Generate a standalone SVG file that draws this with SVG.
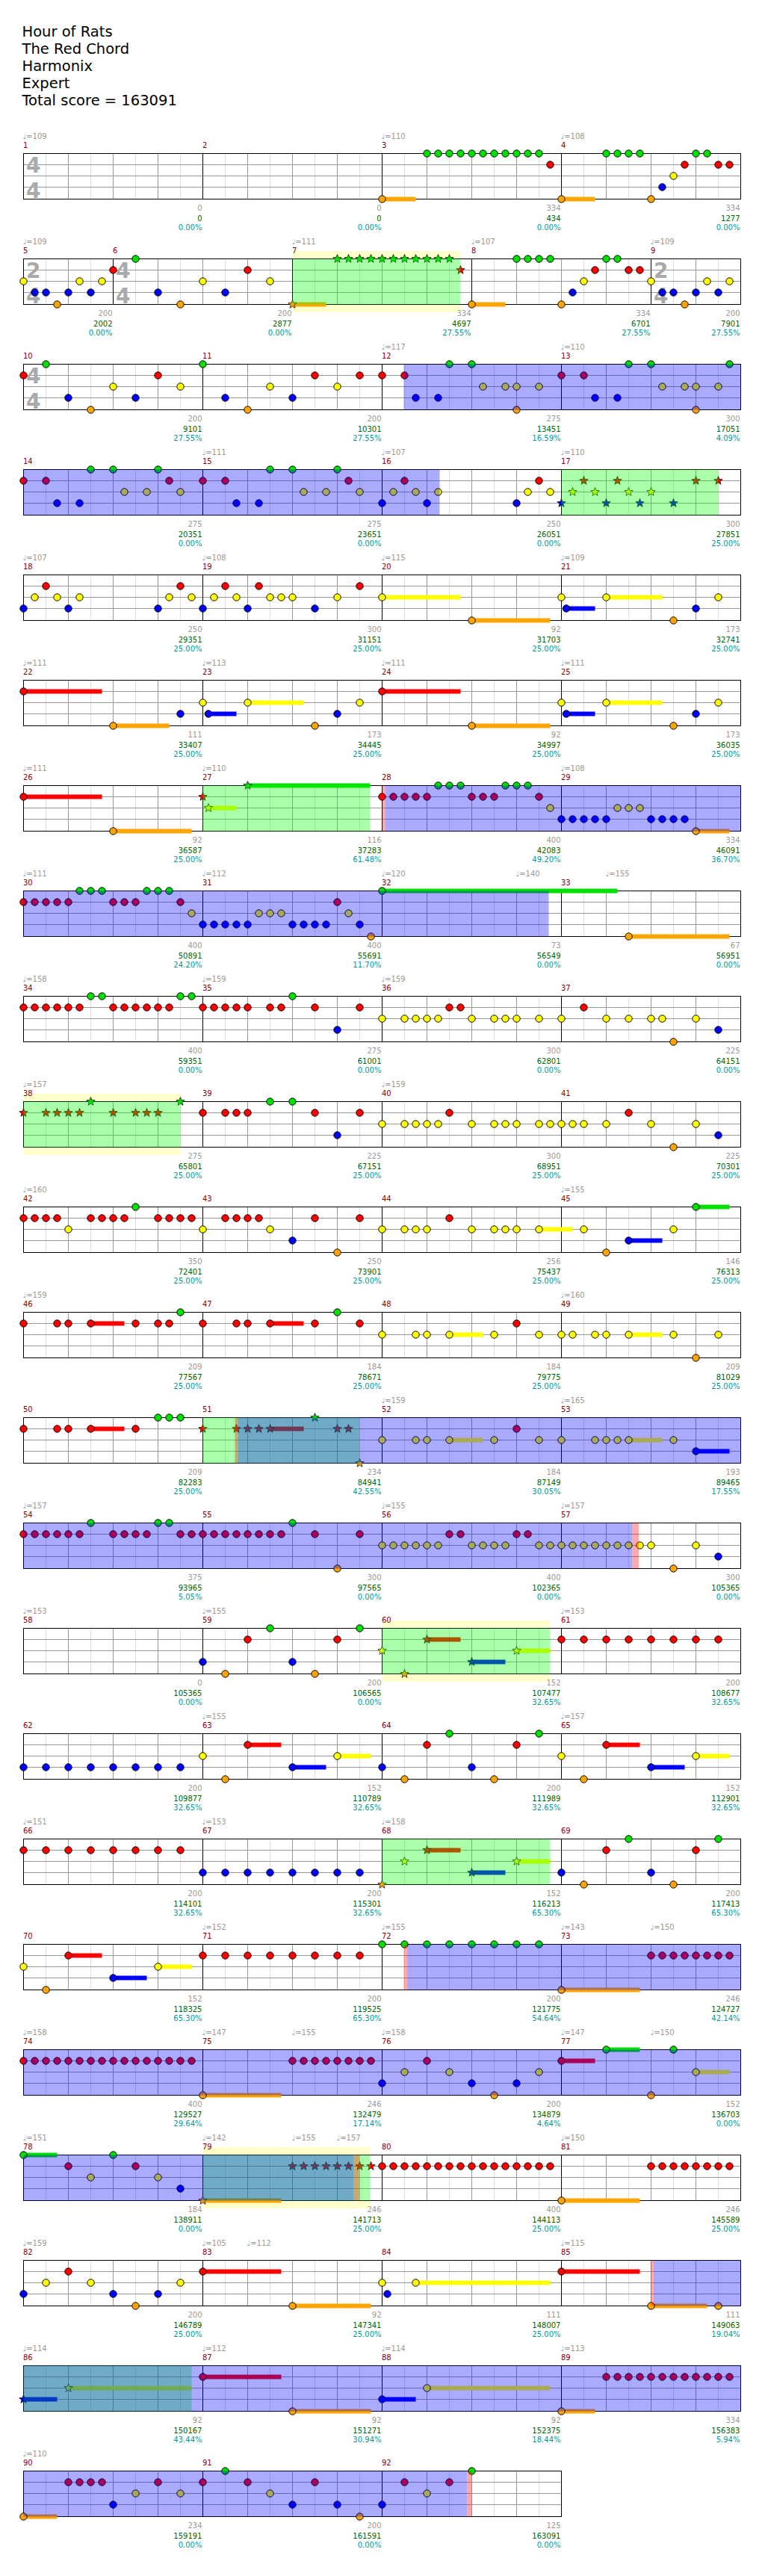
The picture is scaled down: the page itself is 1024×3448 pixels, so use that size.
<svg xmlns="http://www.w3.org/2000/svg" width="1024" height="3448" viewBox="0 0 1024 3448">
<style>
text{font-family:"DejaVu Sans","Liberation Sans",sans-serif;font-size:10px}
.ti{font-size:19.5px;fill:#000}
.mn{fill:#8b0000}
.tp{fill:#999}
.sc{text-anchor:end}
.s1{fill:#999}.s2{fill:#006400}.s3{fill:#009999}
.ts{font-size:28px;font-weight:bold;fill:#aaa}
.gl{stroke:#ddd;fill:none}.gg{stroke:#999;fill:none}
.ml{stroke:#000;fill:none}.bd{stroke:#000;fill:none}
.nt{stroke:#000;stroke-width:1}.st{stroke:#000;stroke-width:.7}
.g{fill:#00e000}.r{fill:#f00}.y{fill:#ff0}.b{fill:#00f}.o{fill:#ffa500}
.bo{fill:#00f;fill-opacity:.333}.go{fill:#0f0;fill-opacity:.333}.po{fill:#f00;fill-opacity:.333}
.yb{fill:#ffffcc}.wb{fill:#fff}
</style>
<defs>
<circle id="c" r="4.7"/>
<path id="s" d="M0-6L1.53-2.1L5.71-1.85L2.47 0.8L3.53 4.85L0 2.6L-3.53 4.85L-2.47 0.8L-5.71-1.85L-1.53-2.1Z"/>
<g id="grid">
<path class="gl" d="M30 0V61M90 0V61M150 0V61M210 0V61M270 0V61M330 0V61M390 0V61M450 0V61M510 0V61M570 0V61M630 0V61M690 0V61M750 0V61M810 0V61M870 0V61M930 0V61"/>
<path class="gg" d="M60 0V61M120 0V61M180 0V61M240 0V61M300 0V61M360 0V61M420 0V61M480 0V61M540 0V61M600 0V61M660 0V61M720 0V61M780 0V61M840 0V61M900 0V61M0 15H960M0 30H960M0 45H960"/>
</g>
<g id="grid3">
<path class="gl" d="M30 0V61M90 0V61M150 0V61M210 0V61M270 0V61M330 0V61M390 0V61M450 0V61M510 0V61M570 0V61M630 0V61M690 0V61"/>
<path class="gg" d="M60 0V61M120 0V61M180 0V61M240 0V61M300 0V61M360 0V61M420 0V61M480 0V61M540 0V61M600 0V61M660 0V61M0 15H720M0 30H720M0 45H720"/>
</g>
</defs>
<rect width="1024" height="3448" fill="#fff"/>
<g id="title">
<text class="ti" x="29.5" y="49">Hour of Rats</text>
<text class="ti" x="29.5" y="72">The Red Chord</text>
<text class="ti" x="29.5" y="95">Harmonix</text>
<text class="ti" x="29.5" y="118">Expert</text>
<text class="ti" x="29.5" y="141">Total score = 163091</text>
</g>

<g id="row1" transform="translate(31.5,205.5)">
<use href="#grid"/><path class="ml" d="M240 0V61M480 0V61M720 0V61"/><rect class="bd" width="960" height="61"/>
<text class="ts" x="3.5" y="25.5">4</text><text class="ts" x="3.5" y="59">4</text>
<g class="o"><rect x="480" y="58" width="45" height="6"/><rect x="720" y="58" width="45" height="6"/></g>
<g class="nt">
<g class="g"><use href="#c" x="540"/><use href="#c" x="555"/><use href="#c" x="570"/><use href="#c" x="585"/><use href="#c" x="600"/><use href="#c" x="615"/><use href="#c" x="630"/><use href="#c" x="645"/><use href="#c" x="660"/><use href="#c" x="675"/><use href="#c" x="690"/><use href="#c" x="780"/><use href="#c" x="795"/><use href="#c" x="810"/><use href="#c" x="825"/><use href="#c" x="900"/><use href="#c" x="915"/></g>
<g class="r" transform="translate(0,15)"><use href="#c" x="705"/><use href="#c" x="885"/><use href="#c" x="930"/><use href="#c" x="945"/></g>
<g class="y" transform="translate(0,30)"><use href="#c" x="870"/></g>
<g class="b" transform="translate(0,45)"><use href="#c" x="855"/></g>
<g class="o" transform="translate(0,61)"><use href="#c" x="480"/><use href="#c" x="720"/><use href="#c" x="840"/></g>
</g>
<text class="mn" x="-0.5" y="-7.5">1</text><text class="mn" x="239.5" y="-7.5">2</text><text class="mn" x="479.5" y="-7.5">3</text><text class="mn" x="719.5" y="-7.5">4</text>
<text class="tp" x="-1" y="-20">♩=109</text><text class="tp" x="479" y="-20">♩=110</text><text class="tp" x="719" y="-20">♩=108</text>
<g class="sc" transform="translate(239,0)"><text class="s1" y="76.5">0</text><text class="s2" y="90">0</text><text class="s3" y="102.5">0.00%</text></g>
<g class="sc" transform="translate(479,0)"><text class="s1" y="76.5">0</text><text class="s2" y="90">0</text><text class="s3" y="102.5">0.00%</text></g>
<g class="sc" transform="translate(719,0)"><text class="s1" y="76.5">334</text><text class="s2" y="90">434</text><text class="s3" y="102.5">0.00%</text></g>
<g class="sc" transform="translate(959,0)"><text class="s1" y="76.5">334</text><text class="s2" y="90">1277</text><text class="s3" y="102.5">0.00%</text></g>
</g>

<g id="row2" transform="translate(31.5,346.5)">
<rect class="yb" x="360" y="-10.5" width="225" height="82"/><rect class="wb" width="960" height="61"/>
<use href="#grid"/><path class="ml" d="M120 0V61M360 0V61M600 0V61M840 0V61"/><rect class="bd" width="960" height="61"/>
<text class="ts" x="3.5" y="25.5">2</text><text class="ts" x="3.5" y="59">4</text>
<text class="ts" x="123.5" y="25.5">4</text><text class="ts" x="123.5" y="59">4</text>
<text class="ts" x="843.5" y="25.5">2</text><text class="ts" x="843.5" y="59">4</text>
<g class="o"><rect x="360" y="58" width="45" height="6"/><rect x="600" y="58" width="45" height="6"/></g>
<g class="nt">
<g class="g"><use href="#c" x="150"/><use href="#c" x="660"/><use href="#c" x="675"/><use href="#c" x="690"/><use href="#c" x="705"/><use href="#c" x="780"/><use href="#c" x="795"/></g>
<g class="r" transform="translate(0,15)"><use href="#c" x="120"/><use href="#c" x="300"/><use href="#c" x="765"/><use href="#c" x="810"/><use href="#c" x="825"/></g>
<g class="y" transform="translate(0,30)"><use href="#c" x="0"/><use href="#c" x="75"/><use href="#c" x="105"/><use href="#c" x="240"/><use href="#c" x="330"/><use href="#c" x="750"/><use href="#c" x="840"/><use href="#c" x="915"/><use href="#c" x="945"/></g>
<g class="b" transform="translate(0,45)"><use href="#c" x="15"/><use href="#c" x="30"/><use href="#c" x="60"/><use href="#c" x="90"/><use href="#c" x="180"/><use href="#c" x="270"/><use href="#c" x="735"/><use href="#c" x="855"/><use href="#c" x="870"/><use href="#c" x="900"/><use href="#c" x="930"/></g>
<g class="o" transform="translate(0,61)"><use href="#c" x="45"/><use href="#c" x="210"/><use href="#c" x="600"/><use href="#c" x="720"/><use href="#c" x="885"/></g>
</g>
<g class="st">
<use href="#s" class="o" x="360" y="61"/>
<g class="g"><use href="#s" x="420"/><use href="#s" x="435"/><use href="#s" x="450"/><use href="#s" x="465"/><use href="#s" x="480"/><use href="#s" x="495"/><use href="#s" x="510"/><use href="#s" x="525"/><use href="#s" x="540"/><use href="#s" x="555"/><use href="#s" x="570"/></g>
<use href="#s" class="r" x="585" y="15"/>
</g>
<rect class="go" x="360" width="225" height="61"/>
<text class="mn" x="-0.5" y="-7.5">5</text><text class="mn" x="119.5" y="-7.5">6</text><text class="mn" x="359.5" y="-7.5">7</text><text class="mn" x="599.5" y="-7.5">8</text><text class="mn" x="839.5" y="-7.5">9</text>
<text class="tp" x="-1" y="-20">♩=109</text><text class="tp" x="359" y="-20">♩=111</text><text class="tp" x="599" y="-20">♩=107</text><text class="tp" x="839" y="-20">♩=109</text>
<g class="sc" transform="translate(119,0)"><text class="s1" y="76.5">200</text><text class="s2" y="90">2002</text><text class="s3" y="102.5">0.00%</text></g>
<g class="sc" transform="translate(359,0)"><text class="s1" y="76.5">200</text><text class="s2" y="90">2877</text><text class="s3" y="102.5">0.00%</text></g>
<g class="sc" transform="translate(599,0)"><text class="s1" y="76.5">334</text><text class="s2" y="90">4697</text><text class="s3" y="102.5">27.55%</text></g>
<g class="sc" transform="translate(839,0)"><text class="s1" y="76.5">334</text><text class="s2" y="90">6701</text><text class="s3" y="102.5">27.55%</text></g>
<g class="sc" transform="translate(959,0)"><text class="s1" y="76.5">200</text><text class="s2" y="90">7901</text><text class="s3" y="102.5">27.55%</text></g>
</g>

<g id="row3" transform="translate(31.5,487.5)">
<use href="#grid"/><path class="ml" d="M240 0V61M480 0V61M720 0V61"/><rect class="bd" width="960" height="61"/>
<text class="ts" x="3.5" y="25.5">4</text><text class="ts" x="3.5" y="59">4</text>
<g class="nt">
<g class="g"><use href="#c" x="30"/><use href="#c" x="240"/><use href="#c" x="570"/><use href="#c" x="600"/><use href="#c" x="810"/><use href="#c" x="840"/><use href="#c" x="945"/></g>
<g class="r" transform="translate(0,15)"><use href="#c" x="0"/><use href="#c" x="180"/><use href="#c" x="390"/><use href="#c" x="450"/><use href="#c" x="480"/><use href="#c" x="510"/><use href="#c" x="720"/><use href="#c" x="750"/></g>
<g class="y" transform="translate(0,30)"><use href="#c" x="120"/><use href="#c" x="210"/><use href="#c" x="330"/><use href="#c" x="420"/><use href="#c" x="615"/><use href="#c" x="645"/><use href="#c" x="660"/><use href="#c" x="690"/><use href="#c" x="855"/><use href="#c" x="885"/><use href="#c" x="900"/><use href="#c" x="930"/></g>
<g class="b" transform="translate(0,45)"><use href="#c" x="60"/><use href="#c" x="150"/><use href="#c" x="270"/><use href="#c" x="360"/><use href="#c" x="525"/><use href="#c" x="555"/><use href="#c" x="765"/><use href="#c" x="795"/></g>
<g class="o" transform="translate(0,61)"><use href="#c" x="90"/><use href="#c" x="300"/><use href="#c" x="660"/><use href="#c" x="900"/></g>
</g>
<rect class="bo" x="509" width="451" height="61"/>
<text class="mn" x="-0.5" y="-7.5">10</text><text class="mn" x="239.5" y="-7.5">11</text><text class="mn" x="479.5" y="-7.5">12</text><text class="mn" x="719.5" y="-7.5">13</text>
<text class="tp" x="479" y="-20">♩=117</text><text class="tp" x="719" y="-20">♩=110</text>
<g class="sc" transform="translate(239,0)"><text class="s1" y="76.5">200</text><text class="s2" y="90">9101</text><text class="s3" y="102.5">27.55%</text></g>
<g class="sc" transform="translate(479,0)"><text class="s1" y="76.5">200</text><text class="s2" y="90">10301</text><text class="s3" y="102.5">27.55%</text></g>
<g class="sc" transform="translate(719,0)"><text class="s1" y="76.5">275</text><text class="s2" y="90">13451</text><text class="s3" y="102.5">16.59%</text></g>
<g class="sc" transform="translate(959,0)"><text class="s1" y="76.5">300</text><text class="s2" y="90">17051</text><text class="s3" y="102.5">4.09%</text></g>
</g>

<g id="row4" transform="translate(31.5,628.5)">
<use href="#grid"/><path class="ml" d="M240 0V61M480 0V61M720 0V61"/><rect class="bd" width="960" height="61"/>
<g class="nt">
<g class="g"><use href="#c" x="90"/><use href="#c" x="120"/><use href="#c" x="180"/><use href="#c" x="330"/><use href="#c" x="360"/><use href="#c" x="420"/></g>
<g class="r" transform="translate(0,15)"><use href="#c" x="0"/><use href="#c" x="30"/><use href="#c" x="195"/><use href="#c" x="240"/><use href="#c" x="270"/><use href="#c" x="435"/><use href="#c" x="510"/><use href="#c" x="690"/></g>
<g class="y" transform="translate(0,30)"><use href="#c" x="135"/><use href="#c" x="165"/><use href="#c" x="210"/><use href="#c" x="375"/><use href="#c" x="405"/><use href="#c" x="450"/><use href="#c" x="495"/><use href="#c" x="525"/><use href="#c" x="555"/><use href="#c" x="675"/><use href="#c" x="705"/></g>
<g class="b" transform="translate(0,45)"><use href="#c" x="45"/><use href="#c" x="75"/><use href="#c" x="285"/><use href="#c" x="315"/><use href="#c" x="480"/><use href="#c" x="540"/><use href="#c" x="660"/></g>
</g>
<g class="st">
<g class="r" transform="translate(0,15)"><use href="#s" x="750"/><use href="#s" x="795"/><use href="#s" x="900"/><use href="#s" x="930"/></g>
<g class="y" transform="translate(0,30)"><use href="#s" x="735"/><use href="#s" x="765"/><use href="#s" x="810"/><use href="#s" x="840"/></g>
<g class="b" transform="translate(0,45)"><use href="#s" x="720"/><use href="#s" x="780"/><use href="#s" x="825"/><use href="#s" x="870"/></g>
</g>
<rect class="bo" x="0" width="557" height="61"/><rect class="go" x="720" width="210" height="61"/>
<text class="mn" x="-0.5" y="-7.5">14</text><text class="mn" x="239.5" y="-7.5">15</text><text class="mn" x="479.5" y="-7.5">16</text><text class="mn" x="719.5" y="-7.5">17</text>
<text class="tp" x="239" y="-20">♩=111</text><text class="tp" x="479" y="-20">♩=107</text><text class="tp" x="719" y="-20">♩=110</text>
<g class="sc" transform="translate(239,0)"><text class="s1" y="76.5">275</text><text class="s2" y="90">20351</text><text class="s3" y="102.5">0.00%</text></g>
<g class="sc" transform="translate(479,0)"><text class="s1" y="76.5">275</text><text class="s2" y="90">23651</text><text class="s3" y="102.5">0.00%</text></g>
<g class="sc" transform="translate(719,0)"><text class="s1" y="76.5">250</text><text class="s2" y="90">26051</text><text class="s3" y="102.5">0.00%</text></g>
<g class="sc" transform="translate(959,0)"><text class="s1" y="76.5">300</text><text class="s2" y="90">27851</text><text class="s3" y="102.5">25.00%</text></g>
</g>

<g id="row5" transform="translate(31.5,769.5)">
<use href="#grid"/><path class="ml" d="M240 0V61M480 0V61M720 0V61"/><rect class="bd" width="960" height="61"/>
<rect class="y" x="480" y="27" width="105" height="6"/><rect class="o" x="600" y="58" width="105" height="6"/><rect class="b" x="726.5" y="42" width="38.5" height="6"/><rect class="y" x="780" y="27" width="75" height="6"/>
<g class="nt">
<g class="r" transform="translate(0,15)"><use href="#c" x="30"/><use href="#c" x="210"/><use href="#c" x="270"/><use href="#c" x="315"/><use href="#c" x="450"/></g>
<g class="y" transform="translate(0,30)"><use href="#c" x="15"/><use href="#c" x="45"/><use href="#c" x="75"/><use href="#c" x="195"/><use href="#c" x="225"/><use href="#c" x="255"/><use href="#c" x="285"/><use href="#c" x="330"/><use href="#c" x="345"/><use href="#c" x="360"/><use href="#c" x="420"/><use href="#c" x="480"/><use href="#c" x="720"/><use href="#c" x="780"/><use href="#c" x="930"/></g>
<g class="b" transform="translate(0,45)"><use href="#c" x="0"/><use href="#c" x="60"/><use href="#c" x="180"/><use href="#c" x="240"/><use href="#c" x="300"/><use href="#c" x="390"/><use href="#c" x="726.5"/><use href="#c" x="900"/></g>
<g class="o" transform="translate(0,61)"><use href="#c" x="600"/><use href="#c" x="870"/></g>
</g>
<text class="mn" x="-0.5" y="-7.5">18</text><text class="mn" x="239.5" y="-7.5">19</text><text class="mn" x="479.5" y="-7.5">20</text><text class="mn" x="719.5" y="-7.5">21</text>
<text class="tp" x="-1" y="-20">♩=107</text><text class="tp" x="239" y="-20">♩=108</text><text class="tp" x="479" y="-20">♩=115</text><text class="tp" x="719" y="-20">♩=109</text>
<g class="sc" transform="translate(239,0)"><text class="s1" y="76.5">250</text><text class="s2" y="90">29351</text><text class="s3" y="102.5">25.00%</text></g>
<g class="sc" transform="translate(479,0)"><text class="s1" y="76.5">300</text><text class="s2" y="90">31151</text><text class="s3" y="102.5">25.00%</text></g>
<g class="sc" transform="translate(719,0)"><text class="s1" y="76.5">92</text><text class="s2" y="90">31703</text><text class="s3" y="102.5">25.00%</text></g>
<g class="sc" transform="translate(959,0)"><text class="s1" y="76.5">173</text><text class="s2" y="90">32741</text><text class="s3" y="102.5">25.00%</text></g>
</g>

<g id="row6" transform="translate(31.5,910.5)">
<use href="#grid"/><path class="ml" d="M240 0V61M480 0V61M720 0V61"/><rect class="bd" width="960" height="61"/>
<rect class="r" x="0" y="12" width="105" height="6"/><rect class="o" x="120" y="58" width="75" height="6"/><rect class="b" x="247.5" y="42" width="37.5" height="6"/><rect class="y" x="300" y="27" width="75" height="6"/><rect class="r" x="480" y="12" width="105" height="6"/><rect class="o" x="600" y="58" width="105" height="6"/><rect class="b" x="726.5" y="42" width="38.5" height="6"/><rect class="y" x="780" y="27" width="75" height="6"/>
<g class="nt">
<g class="r" transform="translate(0,15)"><use href="#c" x="0"/><use href="#c" x="480"/></g>
<g class="y" transform="translate(0,30)"><use href="#c" x="240"/><use href="#c" x="300"/><use href="#c" x="450"/><use href="#c" x="720"/><use href="#c" x="780"/><use href="#c" x="930"/></g>
<g class="b" transform="translate(0,45)"><use href="#c" x="210"/><use href="#c" x="247.5"/><use href="#c" x="420"/><use href="#c" x="726.5"/><use href="#c" x="900"/></g>
<g class="o" transform="translate(0,61)"><use href="#c" x="120"/><use href="#c" x="390"/><use href="#c" x="600"/><use href="#c" x="870"/></g>
</g>
<text class="mn" x="-0.5" y="-7.5">22</text><text class="mn" x="239.5" y="-7.5">23</text><text class="mn" x="479.5" y="-7.5">24</text><text class="mn" x="719.5" y="-7.5">25</text>
<text class="tp" x="-1" y="-20">♩=111</text><text class="tp" x="239" y="-20">♩=113</text><text class="tp" x="479" y="-20">♩=111</text><text class="tp" x="719" y="-20">♩=111</text>
<g class="sc" transform="translate(239,0)"><text class="s1" y="76.5">111</text><text class="s2" y="90">33407</text><text class="s3" y="102.5">25.00%</text></g>
<g class="sc" transform="translate(479,0)"><text class="s1" y="76.5">173</text><text class="s2" y="90">34445</text><text class="s3" y="102.5">25.00%</text></g>
<g class="sc" transform="translate(719,0)"><text class="s1" y="76.5">92</text><text class="s2" y="90">34997</text><text class="s3" y="102.5">25.00%</text></g>
<g class="sc" transform="translate(959,0)"><text class="s1" y="76.5">173</text><text class="s2" y="90">36035</text><text class="s3" y="102.5">25.00%</text></g>
</g>

<g id="row7" transform="translate(31.5,1051.5)">
<use href="#grid"/><path class="ml" d="M240 0V61M480 0V61M720 0V61"/><rect class="bd" width="960" height="61"/>
<rect class="r" x="0" y="12" width="105" height="6"/><rect class="o" x="120" y="58" width="105" height="6"/><rect class="y" x="247.5" y="27" width="37.5" height="6"/><rect class="g" x="300" y="-3" width="164" height="6"/><rect class="o" x="900" y="58" width="45" height="6"/>
<g class="nt">
<g class="g"><use href="#c" x="555"/><use href="#c" x="570"/><use href="#c" x="585"/><use href="#c" x="645"/><use href="#c" x="660"/><use href="#c" x="675"/></g>
<g class="r" transform="translate(0,15)"><use href="#c" x="0"/><use href="#c" x="480"/><use href="#c" x="495"/><use href="#c" x="510"/><use href="#c" x="525"/><use href="#c" x="540"/><use href="#c" x="600"/><use href="#c" x="615"/><use href="#c" x="630"/><use href="#c" x="690"/></g>
<g class="y" transform="translate(0,30)"><use href="#c" x="705"/><use href="#c" x="795"/><use href="#c" x="810"/><use href="#c" x="825"/></g>
<g class="b" transform="translate(0,45)"><use href="#c" x="720"/><use href="#c" x="735"/><use href="#c" x="750"/><use href="#c" x="765"/><use href="#c" x="780"/><use href="#c" x="840"/><use href="#c" x="855"/><use href="#c" x="870"/><use href="#c" x="885"/></g>
<g class="o" transform="translate(0,61)"><use href="#c" x="120"/><use href="#c" x="900"/></g>
</g>
<g class="st"><use href="#s" class="r" x="240" y="15"/><use href="#s" class="y" x="247.5" y="30"/><use href="#s" class="g" x="300" y="0"/></g>
<rect class="go" x="240" width="224" height="61"/><rect class="po" x="480" width="4.5" height="61"/><rect class="bo" x="484.5" width="475.5" height="61"/>
<text class="mn" x="-0.5" y="-7.5">26</text><text class="mn" x="239.5" y="-7.5">27</text><text class="mn" x="479.5" y="-7.5">28</text><text class="mn" x="719.5" y="-7.5">29</text>
<text class="tp" x="-1" y="-20">♩=111</text><text class="tp" x="239" y="-20">♩=110</text><text class="tp" x="719" y="-20">♩=108</text>
<g class="sc" transform="translate(239,0)"><text class="s1" y="76.5">92</text><text class="s2" y="90">36587</text><text class="s3" y="102.5">25.00%</text></g>
<g class="sc" transform="translate(479,0)"><text class="s1" y="76.5">116</text><text class="s2" y="90">37283</text><text class="s3" y="102.5">61.48%</text></g>
<g class="sc" transform="translate(719,0)"><text class="s1" y="76.5">400</text><text class="s2" y="90">42083</text><text class="s3" y="102.5">49.20%</text></g>
<g class="sc" transform="translate(959,0)"><text class="s1" y="76.5">334</text><text class="s2" y="90">46091</text><text class="s3" y="102.5">36.70%</text></g>
</g>

<g id="row8" transform="translate(31.5,1192.5)">
<use href="#grid"/><path class="ml" d="M240 0V61M480 0V61M720 0V61"/><rect class="bd" width="960" height="61"/>
<rect class="g" x="480" y="-3" width="315" height="6"/><rect class="o" x="810" y="58" width="135" height="6"/>
<g class="nt">
<g class="g"><use href="#c" x="75"/><use href="#c" x="90"/><use href="#c" x="105"/><use href="#c" x="165"/><use href="#c" x="180"/><use href="#c" x="195"/><use href="#c" x="480"/></g>
<g class="r" transform="translate(0,15)"><use href="#c" x="0"/><use href="#c" x="15"/><use href="#c" x="30"/><use href="#c" x="45"/><use href="#c" x="60"/><use href="#c" x="120"/><use href="#c" x="135"/><use href="#c" x="150"/><use href="#c" x="210"/><use href="#c" x="420"/></g>
<g class="y" transform="translate(0,30)"><use href="#c" x="225"/><use href="#c" x="315"/><use href="#c" x="330"/><use href="#c" x="345"/><use href="#c" x="435"/></g>
<g class="b" transform="translate(0,45)"><use href="#c" x="240"/><use href="#c" x="255"/><use href="#c" x="270"/><use href="#c" x="285"/><use href="#c" x="300"/><use href="#c" x="360"/><use href="#c" x="375"/><use href="#c" x="390"/><use href="#c" x="405"/><use href="#c" x="450"/></g>
<g class="o" transform="translate(0,61)"><use href="#c" x="465"/><use href="#c" x="810"/></g>
</g>
<rect class="bo" x="0" width="703" height="61"/>
<text class="mn" x="-0.5" y="-7.5">30</text><text class="mn" x="239.5" y="-7.5">31</text><text class="mn" x="479.5" y="-7.5">32</text><text class="mn" x="719.5" y="-7.5">33</text>
<text class="tp" x="-1" y="-20">♩=111</text><text class="tp" x="239" y="-20">♩=112</text><text class="tp" x="479" y="-20">♩=120</text><text class="tp" x="659" y="-20">♩=140</text><text class="tp" x="779" y="-20">♩=155</text>
<g class="sc" transform="translate(239,0)"><text class="s1" y="76.5">400</text><text class="s2" y="90">50891</text><text class="s3" y="102.5">24.20%</text></g>
<g class="sc" transform="translate(479,0)"><text class="s1" y="76.5">400</text><text class="s2" y="90">55691</text><text class="s3" y="102.5">11.70%</text></g>
<g class="sc" transform="translate(719,0)"><text class="s1" y="76.5">73</text><text class="s2" y="90">56549</text><text class="s3" y="102.5">0.00%</text></g>
<g class="sc" transform="translate(959,0)"><text class="s1" y="76.5">67</text><text class="s2" y="90">56951</text><text class="s3" y="102.5">0.00%</text></g>
</g>

<g id="row9" transform="translate(31.5,1333.5)">
<use href="#grid"/><path class="ml" d="M240 0V61M480 0V61M720 0V61"/><rect class="bd" width="960" height="61"/>
<g class="nt">
<g class="g"><use href="#c" x="90"/><use href="#c" x="105"/><use href="#c" x="210"/><use href="#c" x="225"/><use href="#c" x="360"/></g>
<g class="r" transform="translate(0,15)"><use href="#c" x="0"/><use href="#c" x="15"/><use href="#c" x="30"/><use href="#c" x="45"/><use href="#c" x="60"/><use href="#c" x="75"/><use href="#c" x="120"/><use href="#c" x="135"/><use href="#c" x="150"/><use href="#c" x="165"/><use href="#c" x="180"/><use href="#c" x="195"/><use href="#c" x="240"/><use href="#c" x="255"/><use href="#c" x="270"/><use href="#c" x="285"/><use href="#c" x="300"/><use href="#c" x="330"/><use href="#c" x="345"/><use href="#c" x="390"/><use href="#c" x="450"/><use href="#c" x="570"/><use href="#c" x="585"/><use href="#c" x="750"/></g>
<g class="y" transform="translate(0,30)"><use href="#c" x="480"/><use href="#c" x="510"/><use href="#c" x="525"/><use href="#c" x="540"/><use href="#c" x="555"/><use href="#c" x="600"/><use href="#c" x="630"/><use href="#c" x="645"/><use href="#c" x="660"/><use href="#c" x="690"/><use href="#c" x="720"/><use href="#c" x="780"/><use href="#c" x="810"/><use href="#c" x="840"/><use href="#c" x="855"/><use href="#c" x="900"/></g>
<g class="b" transform="translate(0,45)"><use href="#c" x="420"/><use href="#c" x="930"/></g>
<g class="o" transform="translate(0,61)"><use href="#c" x="870"/></g>
</g>
<text class="mn" x="-0.5" y="-7.5">34</text><text class="mn" x="239.5" y="-7.5">35</text><text class="mn" x="479.5" y="-7.5">36</text><text class="mn" x="719.5" y="-7.5">37</text>
<text class="tp" x="-1" y="-20">♩=158</text><text class="tp" x="239" y="-20">♩=159</text><text class="tp" x="479" y="-20">♩=159</text>
<g class="sc" transform="translate(239,0)"><text class="s1" y="76.5">400</text><text class="s2" y="90">59351</text><text class="s3" y="102.5">0.00%</text></g>
<g class="sc" transform="translate(479,0)"><text class="s1" y="76.5">275</text><text class="s2" y="90">61001</text><text class="s3" y="102.5">0.00%</text></g>
<g class="sc" transform="translate(719,0)"><text class="s1" y="76.5">300</text><text class="s2" y="90">62801</text><text class="s3" y="102.5">0.00%</text></g>
<g class="sc" transform="translate(959,0)"><text class="s1" y="76.5">225</text><text class="s2" y="90">64151</text><text class="s3" y="102.5">0.00%</text></g>
</g>

<g id="row10" transform="translate(31.5,1474.5)">
<rect class="yb" x="0" y="-10.5" width="210" height="82"/><rect class="wb" width="960" height="61"/>
<use href="#grid"/><path class="ml" d="M240 0V61M480 0V61M720 0V61"/><rect class="bd" width="960" height="61"/>
<g class="nt">
<g class="g"><use href="#c" x="330"/><use href="#c" x="360"/></g>
<g class="r" transform="translate(0,15)"><use href="#c" x="240"/><use href="#c" x="270"/><use href="#c" x="285"/><use href="#c" x="300"/><use href="#c" x="390"/><use href="#c" x="450"/><use href="#c" x="570"/><use href="#c" x="810"/></g>
<g class="y" transform="translate(0,30)"><use href="#c" x="480"/><use href="#c" x="510"/><use href="#c" x="525"/><use href="#c" x="540"/><use href="#c" x="555"/><use href="#c" x="600"/><use href="#c" x="630"/><use href="#c" x="645"/><use href="#c" x="660"/><use href="#c" x="690"/><use href="#c" x="705"/><use href="#c" x="720"/><use href="#c" x="735"/><use href="#c" x="750"/><use href="#c" x="780"/><use href="#c" x="840"/><use href="#c" x="900"/></g>
<g class="b" transform="translate(0,45)"><use href="#c" x="420"/><use href="#c" x="930"/></g>
<g class="o" transform="translate(0,61)"><use href="#c" x="870"/></g>
</g>
<g class="st">
<g class="r" transform="translate(0,15)"><use href="#s" x="0"/><use href="#s" x="30"/><use href="#s" x="45"/><use href="#s" x="60"/><use href="#s" x="75"/><use href="#s" x="120"/><use href="#s" x="150"/><use href="#s" x="165"/><use href="#s" x="180"/></g>
<g class="g"><use href="#s" x="90"/><use href="#s" x="210"/></g>
</g>
<rect class="go" x="0" width="210" height="61"/>
<text class="mn" x="-0.5" y="-7.5">38</text><text class="mn" x="239.5" y="-7.5">39</text><text class="mn" x="479.5" y="-7.5">40</text><text class="mn" x="719.5" y="-7.5">41</text>
<text class="tp" x="-1" y="-20">♩=157</text><text class="tp" x="479" y="-20">♩=159</text>
<g class="sc" transform="translate(239,0)"><text class="s1" y="76.5">275</text><text class="s2" y="90">65801</text><text class="s3" y="102.5">25.00%</text></g>
<g class="sc" transform="translate(479,0)"><text class="s1" y="76.5">225</text><text class="s2" y="90">67151</text><text class="s3" y="102.5">25.00%</text></g>
<g class="sc" transform="translate(719,0)"><text class="s1" y="76.5">300</text><text class="s2" y="90">68951</text><text class="s3" y="102.5">25.00%</text></g>
<g class="sc" transform="translate(959,0)"><text class="s1" y="76.5">225</text><text class="s2" y="90">70301</text><text class="s3" y="102.5">25.00%</text></g>
</g>

<g id="row11" transform="translate(31.5,1615.5)">
<use href="#grid"/><path class="ml" d="M240 0V61M480 0V61M720 0V61"/><rect class="bd" width="960" height="61"/>
<rect class="y" x="690" y="27" width="45" height="6"/><rect class="b" x="810" y="42" width="45" height="6"/><rect class="g" x="900" y="-3" width="45" height="6"/>
<g class="nt">
<g class="g"><use href="#c" x="150"/><use href="#c" x="900"/></g>
<g class="r" transform="translate(0,15)"><use href="#c" x="0"/><use href="#c" x="15"/><use href="#c" x="30"/><use href="#c" x="45"/><use href="#c" x="90"/><use href="#c" x="105"/><use href="#c" x="120"/><use href="#c" x="135"/><use href="#c" x="180"/><use href="#c" x="195"/><use href="#c" x="210"/><use href="#c" x="225"/><use href="#c" x="270"/><use href="#c" x="285"/><use href="#c" x="300"/><use href="#c" x="315"/><use href="#c" x="390"/><use href="#c" x="450"/><use href="#c" x="570"/></g>
<g class="y" transform="translate(0,30)"><use href="#c" x="60"/><use href="#c" x="240"/><use href="#c" x="330"/><use href="#c" x="480"/><use href="#c" x="510"/><use href="#c" x="525"/><use href="#c" x="540"/><use href="#c" x="600"/><use href="#c" x="630"/><use href="#c" x="645"/><use href="#c" x="660"/><use href="#c" x="690"/><use href="#c" x="750"/><use href="#c" x="870"/></g>
<g class="b" transform="translate(0,45)"><use href="#c" x="360"/><use href="#c" x="810"/></g>
<g class="o" transform="translate(0,61)"><use href="#c" x="420"/><use href="#c" x="780"/></g>
</g>
<text class="mn" x="-0.5" y="-7.5">42</text><text class="mn" x="239.5" y="-7.5">43</text><text class="mn" x="479.5" y="-7.5">44</text><text class="mn" x="719.5" y="-7.5">45</text>
<text class="tp" x="-1" y="-20">♩=160</text><text class="tp" x="719" y="-20">♩=155</text>
<g class="sc" transform="translate(239,0)"><text class="s1" y="76.5">350</text><text class="s2" y="90">72401</text><text class="s3" y="102.5">25.00%</text></g>
<g class="sc" transform="translate(479,0)"><text class="s1" y="76.5">250</text><text class="s2" y="90">73901</text><text class="s3" y="102.5">25.00%</text></g>
<g class="sc" transform="translate(719,0)"><text class="s1" y="76.5">256</text><text class="s2" y="90">75437</text><text class="s3" y="102.5">25.00%</text></g>
<g class="sc" transform="translate(959,0)"><text class="s1" y="76.5">146</text><text class="s2" y="90">76313</text><text class="s3" y="102.5">25.00%</text></g>
</g>

<g id="row12" transform="translate(31.5,1756.5)">
<use href="#grid"/><path class="ml" d="M240 0V61M480 0V61M720 0V61"/><rect class="bd" width="960" height="61"/>
<rect class="r" x="90" y="12" width="45" height="6"/><rect class="r" x="330" y="12" width="45" height="6"/><rect class="y" x="570" y="27" width="45" height="6"/><rect class="y" x="810" y="27" width="45" height="6"/>
<g class="nt">
<g class="g"><use href="#c" x="210"/><use href="#c" x="420"/></g>
<g class="r" transform="translate(0,15)"><use href="#c" x="0"/><use href="#c" x="45"/><use href="#c" x="60"/><use href="#c" x="90"/><use href="#c" x="150"/><use href="#c" x="180"/><use href="#c" x="195"/><use href="#c" x="240"/><use href="#c" x="285"/><use href="#c" x="300"/><use href="#c" x="330"/><use href="#c" x="390"/><use href="#c" x="450"/><use href="#c" x="660"/></g>
<g class="y" transform="translate(0,30)"><use href="#c" x="480"/><use href="#c" x="525"/><use href="#c" x="540"/><use href="#c" x="570"/><use href="#c" x="630"/><use href="#c" x="690"/><use href="#c" x="720"/><use href="#c" x="735"/><use href="#c" x="765"/><use href="#c" x="780"/><use href="#c" x="810"/><use href="#c" x="870"/><use href="#c" x="930"/></g>
<g class="o" transform="translate(0,61)"><use href="#c" x="900"/></g>
</g>
<text class="mn" x="-0.5" y="-7.5">46</text><text class="mn" x="239.5" y="-7.5">47</text><text class="mn" x="479.5" y="-7.5">48</text><text class="mn" x="719.5" y="-7.5">49</text>
<text class="tp" x="-1" y="-20">♩=159</text><text class="tp" x="719" y="-20">♩=160</text>
<g class="sc" transform="translate(239,0)"><text class="s1" y="76.5">209</text><text class="s2" y="90">77567</text><text class="s3" y="102.5">25.00%</text></g>
<g class="sc" transform="translate(479,0)"><text class="s1" y="76.5">184</text><text class="s2" y="90">78671</text><text class="s3" y="102.5">25.00%</text></g>
<g class="sc" transform="translate(719,0)"><text class="s1" y="76.5">184</text><text class="s2" y="90">79775</text><text class="s3" y="102.5">25.00%</text></g>
<g class="sc" transform="translate(959,0)"><text class="s1" y="76.5">209</text><text class="s2" y="90">81029</text><text class="s3" y="102.5">25.00%</text></g>
</g>

<g id="row13" transform="translate(31.5,1897.5)">
<use href="#grid"/><path class="ml" d="M240 0V61M480 0V61M720 0V61"/><rect class="bd" width="960" height="61"/>
<rect class="r" x="90" y="12" width="45" height="6"/><rect class="r" x="330" y="12" width="45" height="6"/><rect class="y" x="570" y="27" width="45" height="6"/><rect class="y" x="810" y="27" width="45" height="6"/><rect class="b" x="900" y="42" width="45" height="6"/>
<g class="nt">
<g class="g"><use href="#c" x="180"/><use href="#c" x="195"/><use href="#c" x="210"/></g>
<g class="r" transform="translate(0,15)"><use href="#c" x="0"/><use href="#c" x="45"/><use href="#c" x="60"/><use href="#c" x="90"/><use href="#c" x="150"/><use href="#c" x="660"/></g>
<g class="y" transform="translate(0,30)"><use href="#c" x="480"/><use href="#c" x="525"/><use href="#c" x="540"/><use href="#c" x="570"/><use href="#c" x="630"/><use href="#c" x="690"/><use href="#c" x="720"/><use href="#c" x="765"/><use href="#c" x="780"/><use href="#c" x="795"/><use href="#c" x="810"/><use href="#c" x="870"/></g>
<g class="b" transform="translate(0,45)"><use href="#c" x="900"/></g>
</g>
<g class="st">
<g class="r" transform="translate(0,15)"><use href="#s" x="240"/><use href="#s" x="285"/><use href="#s" x="300"/><use href="#s" x="315"/><use href="#s" x="330"/><use href="#s" x="420"/><use href="#s" x="435"/></g>
<use href="#s" class="g" x="390" y="0"/><use href="#s" class="o" x="450" y="61"/>
</g>
<rect class="go" x="240" width="210" height="61"/><rect class="po" x="283" width="4" height="61"/><rect class="bo" x="287" width="673" height="61"/>
<text class="mn" x="-0.5" y="-7.5">50</text><text class="mn" x="239.5" y="-7.5">51</text><text class="mn" x="479.5" y="-7.5">52</text><text class="mn" x="719.5" y="-7.5">53</text>
<text class="tp" x="479" y="-20">♩=159</text><text class="tp" x="719" y="-20">♩=165</text>
<g class="sc" transform="translate(239,0)"><text class="s1" y="76.5">209</text><text class="s2" y="90">82283</text><text class="s3" y="102.5">25.00%</text></g>
<g class="sc" transform="translate(479,0)"><text class="s1" y="76.5">234</text><text class="s2" y="90">84941</text><text class="s3" y="102.5">42.55%</text></g>
<g class="sc" transform="translate(719,0)"><text class="s1" y="76.5">184</text><text class="s2" y="90">87149</text><text class="s3" y="102.5">30.05%</text></g>
<g class="sc" transform="translate(959,0)"><text class="s1" y="76.5">193</text><text class="s2" y="90">89465</text><text class="s3" y="102.5">17.55%</text></g>
</g>

<g id="row14" transform="translate(31.5,2038.5)">
<use href="#grid"/><path class="ml" d="M240 0V61M480 0V61M720 0V61"/><rect class="bd" width="960" height="61"/>
<g class="nt">
<g class="g"><use href="#c" x="90"/><use href="#c" x="180"/><use href="#c" x="195"/><use href="#c" x="360"/></g>
<g class="r" transform="translate(0,15)"><use href="#c" x="0"/><use href="#c" x="15"/><use href="#c" x="30"/><use href="#c" x="45"/><use href="#c" x="60"/><use href="#c" x="75"/><use href="#c" x="120"/><use href="#c" x="135"/><use href="#c" x="150"/><use href="#c" x="165"/><use href="#c" x="210"/><use href="#c" x="225"/><use href="#c" x="240"/><use href="#c" x="255"/><use href="#c" x="270"/><use href="#c" x="285"/><use href="#c" x="300"/><use href="#c" x="315"/><use href="#c" x="330"/><use href="#c" x="345"/><use href="#c" x="390"/><use href="#c" x="450"/><use href="#c" x="570"/><use href="#c" x="585"/><use href="#c" x="660"/><use href="#c" x="675"/></g>
<g class="y" transform="translate(0,30)"><use href="#c" x="480"/><use href="#c" x="495"/><use href="#c" x="510"/><use href="#c" x="525"/><use href="#c" x="540"/><use href="#c" x="555"/><use href="#c" x="600"/><use href="#c" x="615"/><use href="#c" x="630"/><use href="#c" x="645"/><use href="#c" x="690"/><use href="#c" x="705"/><use href="#c" x="720"/><use href="#c" x="735"/><use href="#c" x="750"/><use href="#c" x="765"/><use href="#c" x="780"/><use href="#c" x="795"/><use href="#c" x="810"/><use href="#c" x="825"/><use href="#c" x="840"/><use href="#c" x="900"/></g>
<g class="b" transform="translate(0,45)"><use href="#c" x="930"/></g>
<g class="o" transform="translate(0,61)"><use href="#c" x="420"/><use href="#c" x="870"/></g>
</g>
<rect class="bo" x="0" width="815" height="61"/><rect class="po" x="815" width="8.5" height="61"/>
<text class="mn" x="-0.5" y="-7.5">54</text><text class="mn" x="239.5" y="-7.5">55</text><text class="mn" x="479.5" y="-7.5">56</text><text class="mn" x="719.5" y="-7.5">57</text>
<text class="tp" x="-1" y="-20">♩=157</text><text class="tp" x="479" y="-20">♩=155</text><text class="tp" x="719" y="-20">♩=157</text>
<g class="sc" transform="translate(239,0)"><text class="s1" y="76.5">375</text><text class="s2" y="90">93965</text><text class="s3" y="102.5">5.05%</text></g>
<g class="sc" transform="translate(479,0)"><text class="s1" y="76.5">300</text><text class="s2" y="90">97565</text><text class="s3" y="102.5">0.00%</text></g>
<g class="sc" transform="translate(719,0)"><text class="s1" y="76.5">400</text><text class="s2" y="90">102365</text><text class="s3" y="102.5">0.00%</text></g>
<g class="sc" transform="translate(959,0)"><text class="s1" y="76.5">300</text><text class="s2" y="90">105365</text><text class="s3" y="102.5">0.00%</text></g>
</g>

<g id="row15" transform="translate(31.5,2179.5)">
<rect class="yb" x="480" y="-10.5" width="225" height="82"/><rect class="wb" width="960" height="61"/>
<use href="#grid"/><path class="ml" d="M240 0V61M480 0V61M720 0V61"/><rect class="bd" width="960" height="61"/>
<rect class="r" x="540" y="12" width="45" height="6"/><rect class="b" x="600" y="42" width="45" height="6"/><rect class="y" x="660" y="27" width="45" height="6"/>
<g class="nt">
<g class="g"><use href="#c" x="330"/><use href="#c" x="450"/></g>
<g class="r" transform="translate(0,15)"><use href="#c" x="300"/><use href="#c" x="420"/><use href="#c" x="720"/><use href="#c" x="750"/><use href="#c" x="780"/><use href="#c" x="810"/><use href="#c" x="840"/><use href="#c" x="870"/><use href="#c" x="900"/><use href="#c" x="930"/></g>
<g class="b" transform="translate(0,45)"><use href="#c" x="240"/><use href="#c" x="360"/></g>
<g class="o" transform="translate(0,61)"><use href="#c" x="270"/><use href="#c" x="390"/></g>
</g>
<g class="st"><use href="#s" class="y" x="480" y="30"/><use href="#s" class="o" x="510" y="61"/><use href="#s" class="r" x="540" y="15"/><use href="#s" class="b" x="600" y="45"/><use href="#s" class="y" x="660" y="30"/></g>
<rect class="go" x="480" width="225" height="61"/>
<text class="mn" x="-0.5" y="-7.5">58</text><text class="mn" x="239.5" y="-7.5">59</text><text class="mn" x="479.5" y="-7.5">60</text><text class="mn" x="719.5" y="-7.5">61</text>
<text class="tp" x="-1" y="-20">♩=153</text><text class="tp" x="239" y="-20">♩=155</text><text class="tp" x="719" y="-20">♩=153</text>
<g class="sc" transform="translate(239,0)"><text class="s1" y="76.5">0</text><text class="s2" y="90">105365</text><text class="s3" y="102.5">0.00%</text></g>
<g class="sc" transform="translate(479,0)"><text class="s1" y="76.5">200</text><text class="s2" y="90">106565</text><text class="s3" y="102.5">0.00%</text></g>
<g class="sc" transform="translate(719,0)"><text class="s1" y="76.5">152</text><text class="s2" y="90">107477</text><text class="s3" y="102.5">32.65%</text></g>
<g class="sc" transform="translate(959,0)"><text class="s1" y="76.5">200</text><text class="s2" y="90">108677</text><text class="s3" y="102.5">32.65%</text></g>
</g>

<g id="row16" transform="translate(31.5,2320.5)">
<use href="#grid"/><path class="ml" d="M240 0V61M480 0V61M720 0V61"/><rect class="bd" width="960" height="61"/>
<rect class="r" x="300" y="12" width="45" height="6"/><rect class="b" x="360" y="42" width="45" height="6"/><rect class="y" x="420" y="27" width="45" height="6"/><rect class="r" x="780" y="12" width="45" height="6"/><rect class="b" x="840" y="42" width="45" height="6"/><rect class="y" x="900" y="27" width="45" height="6"/>
<g class="nt">
<g class="g"><use href="#c" x="570"/><use href="#c" x="690"/></g>
<g class="r" transform="translate(0,15)"><use href="#c" x="300"/><use href="#c" x="540"/><use href="#c" x="660"/><use href="#c" x="780"/></g>
<g class="y" transform="translate(0,30)"><use href="#c" x="240"/><use href="#c" x="420"/><use href="#c" x="720"/><use href="#c" x="900"/></g>
<g class="b" transform="translate(0,45)"><use href="#c" x="0"/><use href="#c" x="30"/><use href="#c" x="60"/><use href="#c" x="90"/><use href="#c" x="120"/><use href="#c" x="150"/><use href="#c" x="180"/><use href="#c" x="210"/><use href="#c" x="360"/><use href="#c" x="480"/><use href="#c" x="600"/><use href="#c" x="840"/></g>
<g class="o" transform="translate(0,61)"><use href="#c" x="270"/><use href="#c" x="510"/><use href="#c" x="630"/><use href="#c" x="750"/></g>
</g>
<text class="mn" x="-0.5" y="-7.5">62</text><text class="mn" x="239.5" y="-7.5">63</text><text class="mn" x="479.5" y="-7.5">64</text><text class="mn" x="719.5" y="-7.5">65</text>
<text class="tp" x="239" y="-20">♩=155</text><text class="tp" x="719" y="-20">♩=157</text>
<g class="sc" transform="translate(239,0)"><text class="s1" y="76.5">200</text><text class="s2" y="90">109877</text><text class="s3" y="102.5">32.65%</text></g>
<g class="sc" transform="translate(479,0)"><text class="s1" y="76.5">152</text><text class="s2" y="90">110789</text><text class="s3" y="102.5">32.65%</text></g>
<g class="sc" transform="translate(719,0)"><text class="s1" y="76.5">200</text><text class="s2" y="90">111989</text><text class="s3" y="102.5">32.65%</text></g>
<g class="sc" transform="translate(959,0)"><text class="s1" y="76.5">152</text><text class="s2" y="90">112901</text><text class="s3" y="102.5">32.65%</text></g>
</g>

<g id="row17" transform="translate(31.5,2461.5)">
<use href="#grid"/><path class="ml" d="M240 0V61M480 0V61M720 0V61"/><rect class="bd" width="960" height="61"/>
<rect class="r" x="540" y="12" width="45" height="6"/><rect class="b" x="600" y="42" width="45" height="6"/><rect class="y" x="660" y="27" width="45" height="6"/>
<g class="nt">
<g class="g"><use href="#c" x="810"/><use href="#c" x="930"/></g>
<g class="r" transform="translate(0,15)"><use href="#c" x="0"/><use href="#c" x="30"/><use href="#c" x="60"/><use href="#c" x="90"/><use href="#c" x="120"/><use href="#c" x="150"/><use href="#c" x="180"/><use href="#c" x="210"/><use href="#c" x="780"/><use href="#c" x="900"/></g>
<g class="b" transform="translate(0,45)"><use href="#c" x="240"/><use href="#c" x="270"/><use href="#c" x="300"/><use href="#c" x="330"/><use href="#c" x="360"/><use href="#c" x="390"/><use href="#c" x="420"/><use href="#c" x="450"/><use href="#c" x="720"/><use href="#c" x="840"/></g>
<g class="o" transform="translate(0,61)"><use href="#c" x="750"/><use href="#c" x="870"/></g>
</g>
<g class="st"><use href="#s" class="o" x="480" y="61"/><use href="#s" class="y" x="510" y="30"/><use href="#s" class="r" x="540" y="15"/><use href="#s" class="b" x="600" y="45"/><use href="#s" class="y" x="660" y="30"/></g>
<rect class="go" x="480" width="225" height="61"/>
<text class="mn" x="-0.5" y="-7.5">66</text><text class="mn" x="239.5" y="-7.5">67</text><text class="mn" x="479.5" y="-7.5">68</text><text class="mn" x="719.5" y="-7.5">69</text>
<text class="tp" x="-1" y="-20">♩=151</text><text class="tp" x="239" y="-20">♩=153</text><text class="tp" x="479" y="-20">♩=158</text>
<g class="sc" transform="translate(239,0)"><text class="s1" y="76.5">200</text><text class="s2" y="90">114101</text><text class="s3" y="102.5">32.65%</text></g>
<g class="sc" transform="translate(479,0)"><text class="s1" y="76.5">200</text><text class="s2" y="90">115301</text><text class="s3" y="102.5">32.65%</text></g>
<g class="sc" transform="translate(719,0)"><text class="s1" y="76.5">152</text><text class="s2" y="90">116213</text><text class="s3" y="102.5">65.30%</text></g>
<g class="sc" transform="translate(959,0)"><text class="s1" y="76.5">200</text><text class="s2" y="90">117413</text><text class="s3" y="102.5">65.30%</text></g>
</g>

<g id="row18" transform="translate(31.5,2602.5)">
<use href="#grid"/><path class="ml" d="M240 0V61M480 0V61M720 0V61"/><rect class="bd" width="960" height="61"/>
<rect class="r" x="60" y="12" width="45" height="6"/><rect class="b" x="120" y="42" width="45" height="6"/><rect class="y" x="180" y="27" width="45" height="6"/><rect class="o" x="720" y="58" width="105" height="6"/>
<g class="nt">
<g class="g"><use href="#c" x="480"/><use href="#c" x="510"/><use href="#c" x="540"/><use href="#c" x="570"/><use href="#c" x="600"/><use href="#c" x="630"/><use href="#c" x="660"/><use href="#c" x="690"/></g>
<g class="r" transform="translate(0,15)"><use href="#c" x="60"/><use href="#c" x="240"/><use href="#c" x="270"/><use href="#c" x="300"/><use href="#c" x="330"/><use href="#c" x="360"/><use href="#c" x="390"/><use href="#c" x="420"/><use href="#c" x="450"/><use href="#c" x="840"/><use href="#c" x="855"/><use href="#c" x="870"/><use href="#c" x="885"/><use href="#c" x="900"/><use href="#c" x="915"/><use href="#c" x="930"/><use href="#c" x="945"/></g>
<g class="y" transform="translate(0,30)"><use href="#c" x="0"/><use href="#c" x="180"/></g>
<g class="b" transform="translate(0,45)"><use href="#c" x="120"/></g>
<g class="o" transform="translate(0,61)"><use href="#c" x="30"/><use href="#c" x="720"/></g>
</g>
<rect class="po" x="509" width="4.6" height="61"/><rect class="bo" x="513.6" width="446.4" height="61"/>
<text class="mn" x="-0.5" y="-7.5">70</text><text class="mn" x="239.5" y="-7.5">71</text><text class="mn" x="479.5" y="-7.5">72</text><text class="mn" x="719.5" y="-7.5">73</text>
<text class="tp" x="239" y="-20">♩=152</text><text class="tp" x="479" y="-20">♩=155</text><text class="tp" x="719" y="-20">♩=143</text><text class="tp" x="839" y="-20">♩=150</text>
<g class="sc" transform="translate(239,0)"><text class="s1" y="76.5">152</text><text class="s2" y="90">118325</text><text class="s3" y="102.5">65.30%</text></g>
<g class="sc" transform="translate(479,0)"><text class="s1" y="76.5">200</text><text class="s2" y="90">119525</text><text class="s3" y="102.5">65.30%</text></g>
<g class="sc" transform="translate(719,0)"><text class="s1" y="76.5">200</text><text class="s2" y="90">121775</text><text class="s3" y="102.5">54.64%</text></g>
<g class="sc" transform="translate(959,0)"><text class="s1" y="76.5">246</text><text class="s2" y="90">124727</text><text class="s3" y="102.5">42.14%</text></g>
</g>

<g id="row19" transform="translate(31.5,2743.5)">
<use href="#grid"/><path class="ml" d="M240 0V61M480 0V61M720 0V61"/><rect class="bd" width="960" height="61"/>
<rect class="o" x="240" y="58" width="105" height="6"/><rect class="r" x="720" y="12" width="45" height="6"/><rect class="g" x="780" y="-3" width="45" height="6"/><rect class="y" x="900" y="27" width="45" height="6"/>
<g class="nt">
<g class="g"><use href="#c" x="780"/><use href="#c" x="870"/></g>
<g class="r" transform="translate(0,15)"><use href="#c" x="0"/><use href="#c" x="15"/><use href="#c" x="30"/><use href="#c" x="45"/><use href="#c" x="60"/><use href="#c" x="75"/><use href="#c" x="90"/><use href="#c" x="105"/><use href="#c" x="120"/><use href="#c" x="135"/><use href="#c" x="150"/><use href="#c" x="165"/><use href="#c" x="180"/><use href="#c" x="195"/><use href="#c" x="210"/><use href="#c" x="225"/><use href="#c" x="360"/><use href="#c" x="375"/><use href="#c" x="390"/><use href="#c" x="405"/><use href="#c" x="420"/><use href="#c" x="435"/><use href="#c" x="450"/><use href="#c" x="465"/><use href="#c" x="540"/><use href="#c" x="720"/></g>
<g class="y" transform="translate(0,30)"><use href="#c" x="510"/><use href="#c" x="570"/><use href="#c" x="690"/><use href="#c" x="900"/></g>
<g class="b" transform="translate(0,45)"><use href="#c" x="480"/><use href="#c" x="600"/><use href="#c" x="660"/></g>
<g class="o" transform="translate(0,61)"><use href="#c" x="240"/><use href="#c" x="630"/><use href="#c" x="840"/></g>
</g>
<rect class="bo" x="0" width="960" height="61"/>
<text class="mn" x="-0.5" y="-7.5">74</text><text class="mn" x="239.5" y="-7.5">75</text><text class="mn" x="479.5" y="-7.5">76</text><text class="mn" x="719.5" y="-7.5">77</text>
<text class="tp" x="-1" y="-20">♩=158</text><text class="tp" x="239" y="-20">♩=147</text><text class="tp" x="359" y="-20">♩=155</text><text class="tp" x="479" y="-20">♩=158</text><text class="tp" x="719" y="-20">♩=147</text><text class="tp" x="839" y="-20">♩=150</text>
<g class="sc" transform="translate(239,0)"><text class="s1" y="76.5">400</text><text class="s2" y="90">129527</text><text class="s3" y="102.5">29.64%</text></g>
<g class="sc" transform="translate(479,0)"><text class="s1" y="76.5">246</text><text class="s2" y="90">132479</text><text class="s3" y="102.5">17.14%</text></g>
<g class="sc" transform="translate(719,0)"><text class="s1" y="76.5">200</text><text class="s2" y="90">134879</text><text class="s3" y="102.5">4.64%</text></g>
<g class="sc" transform="translate(959,0)"><text class="s1" y="76.5">152</text><text class="s2" y="90">136703</text><text class="s3" y="102.5">0.00%</text></g>
</g>

<g id="row20" transform="translate(31.5,2884.5)">
<rect class="yb" x="240" y="-10.5" width="224" height="82"/><rect class="wb" width="960" height="61"/>
<use href="#grid"/><path class="ml" d="M240 0V61M480 0V61M720 0V61"/><rect class="bd" width="960" height="61"/>
<rect class="g" x="0" y="-3" width="45" height="6"/><rect class="o" x="240" y="58" width="105" height="6"/><rect class="o" x="720" y="58" width="105" height="6"/>
<g class="nt">
<g class="g"><use href="#c" x="0"/><use href="#c" x="120"/></g>
<g class="r" transform="translate(0,15)"><use href="#c" x="60"/><use href="#c" x="150"/><use href="#c" x="480"/><use href="#c" x="495"/><use href="#c" x="510"/><use href="#c" x="525"/><use href="#c" x="540"/><use href="#c" x="555"/><use href="#c" x="570"/><use href="#c" x="585"/><use href="#c" x="600"/><use href="#c" x="615"/><use href="#c" x="630"/><use href="#c" x="645"/><use href="#c" x="660"/><use href="#c" x="675"/><use href="#c" x="690"/><use href="#c" x="705"/><use href="#c" x="840"/><use href="#c" x="855"/><use href="#c" x="870"/><use href="#c" x="885"/><use href="#c" x="900"/><use href="#c" x="915"/><use href="#c" x="930"/><use href="#c" x="945"/></g>
<g class="y" transform="translate(0,30)"><use href="#c" x="90"/><use href="#c" x="180"/></g>
<g class="b" transform="translate(0,45)"><use href="#c" x="210"/></g>
<g class="o" transform="translate(0,61)"><use href="#c" x="720"/></g>
</g>
<g class="st"><use href="#s" class="o" x="240" y="61"/>
<g class="r" transform="translate(0,15)"><use href="#s" x="360"/><use href="#s" x="375"/><use href="#s" x="390"/><use href="#s" x="405"/><use href="#s" x="420"/><use href="#s" x="435"/><use href="#s" x="450"/><use href="#s" x="465"/></g>
</g>
<rect class="go" x="240" width="224" height="61"/><rect class="bo" x="0" width="442" height="61"/><rect class="po" x="442" width="8" height="61"/>
<text class="mn" x="-0.5" y="-7.5">78</text><text class="mn" x="239.5" y="-7.5">79</text><text class="mn" x="479.5" y="-7.5">80</text><text class="mn" x="719.5" y="-7.5">81</text>
<text class="tp" x="-1" y="-20">♩=151</text><text class="tp" x="239" y="-20">♩=142</text><text class="tp" x="359" y="-20">♩=155</text><text class="tp" x="419" y="-20">♩=157</text><text class="tp" x="719" y="-20">♩=150</text>
<g class="sc" transform="translate(239,0)"><text class="s1" y="76.5">184</text><text class="s2" y="90">138911</text><text class="s3" y="102.5">0.00%</text></g>
<g class="sc" transform="translate(479,0)"><text class="s1" y="76.5">246</text><text class="s2" y="90">141713</text><text class="s3" y="102.5">25.00%</text></g>
<g class="sc" transform="translate(719,0)"><text class="s1" y="76.5">400</text><text class="s2" y="90">144113</text><text class="s3" y="102.5">25.00%</text></g>
<g class="sc" transform="translate(959,0)"><text class="s1" y="76.5">246</text><text class="s2" y="90">145589</text><text class="s3" y="102.5">25.00%</text></g>
</g>

<g id="row21" transform="translate(31.5,3025.5)">
<use href="#grid"/><path class="ml" d="M240 0V61M480 0V61M720 0V61"/><rect class="bd" width="960" height="61"/>
<rect class="r" x="240" y="12" width="105" height="6"/><rect class="o" x="360" y="58" width="105" height="6"/><rect class="y" x="525" y="27" width="180" height="6"/><rect class="r" x="720" y="12" width="105" height="6"/><rect class="o" x="840" y="58" width="75" height="6"/>
<g class="nt">
<g class="r" transform="translate(0,15)"><use href="#c" x="60"/><use href="#c" x="240"/><use href="#c" x="720"/></g>
<g class="y" transform="translate(0,30)"><use href="#c" x="30"/><use href="#c" x="90"/><use href="#c" x="210"/><use href="#c" x="480"/><use href="#c" x="525"/></g>
<g class="b" transform="translate(0,45)"><use href="#c" x="0"/><use href="#c" x="120"/><use href="#c" x="180"/><use href="#c" x="487"/></g>
<g class="o" transform="translate(0,61)"><use href="#c" x="150"/><use href="#c" x="360"/><use href="#c" x="840"/><use href="#c" x="930"/></g>
</g>
<rect class="po" x="839.4" width="4" height="61"/><rect class="bo" x="843.4" width="116.6" height="61"/>
<text class="mn" x="-0.5" y="-7.5">82</text><text class="mn" x="239.5" y="-7.5">83</text><text class="mn" x="479.5" y="-7.5">84</text><text class="mn" x="719.5" y="-7.5">85</text>
<text class="tp" x="-1" y="-20">♩=159</text><text class="tp" x="239" y="-20">♩=105</text><text class="tp" x="299" y="-20">♩=112</text><text class="tp" x="719" y="-20">♩=115</text>
<g class="sc" transform="translate(239,0)"><text class="s1" y="76.5">200</text><text class="s2" y="90">146789</text><text class="s3" y="102.5">25.00%</text></g>
<g class="sc" transform="translate(479,0)"><text class="s1" y="76.5">92</text><text class="s2" y="90">147341</text><text class="s3" y="102.5">25.00%</text></g>
<g class="sc" transform="translate(719,0)"><text class="s1" y="76.5">111</text><text class="s2" y="90">148007</text><text class="s3" y="102.5">25.00%</text></g>
<g class="sc" transform="translate(959,0)"><text class="s1" y="76.5">111</text><text class="s2" y="90">149063</text><text class="s3" y="102.5">19.04%</text></g>
</g>

<g id="row22" transform="translate(31.5,3166.5)">
<use href="#grid"/><path class="ml" d="M240 0V61M480 0V61M720 0V61"/><rect class="bd" width="960" height="61"/>
<rect class="b" x="0" y="42" width="45" height="6"/><rect class="y" x="60" y="27" width="165" height="6"/><rect class="r" x="240" y="12" width="105" height="6"/><rect class="o" x="360" y="58" width="105" height="6"/><rect class="b" x="480" y="42" width="45" height="6"/><rect class="y" x="540" y="27" width="165" height="6"/><rect class="o" x="720" y="58" width="45" height="6"/>
<g class="nt">
<g class="r" transform="translate(0,15)"><use href="#c" x="240"/><use href="#c" x="780"/><use href="#c" x="795"/><use href="#c" x="810"/><use href="#c" x="825"/><use href="#c" x="840"/><use href="#c" x="855"/><use href="#c" x="870"/><use href="#c" x="885"/><use href="#c" x="900"/><use href="#c" x="915"/><use href="#c" x="930"/><use href="#c" x="945"/></g>
<g class="y" transform="translate(0,30)"><use href="#c" x="540"/></g>
<g class="b" transform="translate(0,45)"><use href="#c" x="480"/></g>
<g class="o" transform="translate(0,61)"><use href="#c" x="360"/><use href="#c" x="720"/></g>
</g>
<g class="st"><use href="#s" class="b" x="0" y="45"/><use href="#s" class="y" x="60" y="30"/></g>
<rect class="go" x="0" width="225" height="61"/><rect class="bo" x="0" width="960" height="61"/>
<text class="mn" x="-0.5" y="-7.5">86</text><text class="mn" x="239.5" y="-7.5">87</text><text class="mn" x="479.5" y="-7.5">88</text><text class="mn" x="719.5" y="-7.5">89</text>
<text class="tp" x="-1" y="-20">♩=114</text><text class="tp" x="239" y="-20">♩=112</text><text class="tp" x="479" y="-20">♩=114</text><text class="tp" x="719" y="-20">♩=113</text>
<g class="sc" transform="translate(239,0)"><text class="s1" y="76.5">92</text><text class="s2" y="90">150167</text><text class="s3" y="102.5">43.44%</text></g>
<g class="sc" transform="translate(479,0)"><text class="s1" y="76.5">92</text><text class="s2" y="90">151271</text><text class="s3" y="102.5">30.94%</text></g>
<g class="sc" transform="translate(719,0)"><text class="s1" y="76.5">92</text><text class="s2" y="90">152375</text><text class="s3" y="102.5">18.44%</text></g>
<g class="sc" transform="translate(959,0)"><text class="s1" y="76.5">334</text><text class="s2" y="90">156383</text><text class="s3" y="102.5">5.94%</text></g>
</g>

<g id="row23" transform="translate(31.5,3307.5)">
<use href="#grid3"/><path class="ml" d="M240 0V61M480 0V61"/><rect class="bd" width="720" height="61"/>
<rect class="o" x="0" y="58" width="45" height="6"/>
<g class="nt">
<g class="g"><use href="#c" x="270"/><use href="#c" x="600"/></g>
<g class="r" transform="translate(0,15)"><use href="#c" x="60"/><use href="#c" x="75"/><use href="#c" x="90"/><use href="#c" x="105"/><use href="#c" x="180"/><use href="#c" x="240"/><use href="#c" x="300"/><use href="#c" x="390"/><use href="#c" x="510"/><use href="#c" x="570"/></g>
<g class="y" transform="translate(0,30)"><use href="#c" x="150"/><use href="#c" x="210"/><use href="#c" x="330"/><use href="#c" x="540"/></g>
<g class="b" transform="translate(0,45)"><use href="#c" x="120"/><use href="#c" x="360"/><use href="#c" x="420"/><use href="#c" x="480"/></g>
<g class="o" transform="translate(0,61)"><use href="#c" x="0"/><use href="#c" x="450"/></g>
</g>
<rect class="bo" x="0" width="593.4" height="61"/><rect class="po" x="593.4" width="6.6" height="61"/>
<text class="mn" x="-0.5" y="-7.5">90</text><text class="mn" x="239.5" y="-7.5">91</text><text class="mn" x="479.5" y="-7.5">92</text>
<text class="tp" x="-1" y="-20">♩=110</text>
<g class="sc" transform="translate(239,0)"><text class="s1" y="76.5">234</text><text class="s2" y="90">159191</text><text class="s3" y="102.5">0.00%</text></g>
<g class="sc" transform="translate(479,0)"><text class="s1" y="76.5">200</text><text class="s2" y="90">161591</text><text class="s3" y="102.5">0.00%</text></g>
<g class="sc" transform="translate(719,0)"><text class="s1" y="76.5">125</text><text class="s2" y="90">163091</text><text class="s3" y="102.5">0.00%</text></g>
</g>
</svg>
